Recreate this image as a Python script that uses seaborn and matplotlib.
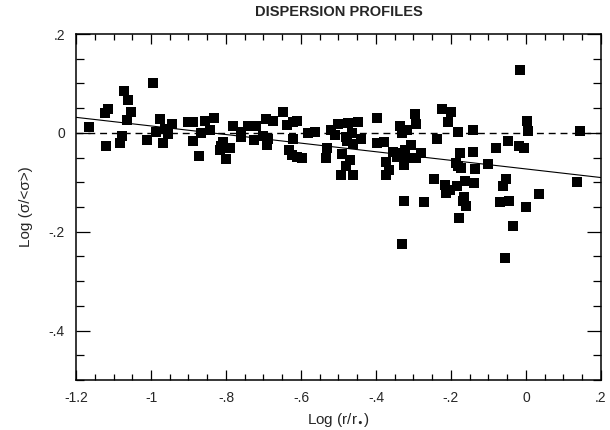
import numpy as np
import pandas as pd
import matplotlib
matplotlib.use("Agg")
import matplotlib.pyplot as plt
import seaborn as sns
from matplotlib.ticker import MultipleLocator, FuncFormatter

# log radius (r/r_e) and log dispersion ratio
log_r = [
    -1.165, -1.124, -1.114, -1.121, -1.071, -1.061, -1.053, -1.063, -1.078, -1.084,
    -0.996, -1.012, -0.976, -0.988, -0.962, -0.954, -0.944, -0.969, -0.900, -0.887,
    -0.887, -0.872, -0.866, -0.856, -0.842, -0.832, -0.808, -0.813, -0.817, -0.789,
    -0.800, -0.782, -0.760, -0.760, -0.741, -0.720, -0.725,
    -0.694, -0.675, -0.647, -0.636, -0.622, -0.611, -0.701, -0.687, -0.690, -0.622,
    -0.633, -0.625, -0.611, -0.597, -0.580, -0.562, -0.530, -0.533, -0.519, -0.508,
    -0.501, -0.475, -0.449, -0.465, -0.481, -0.477, -0.460, -0.439, -0.490, -0.469,
    -0.479, -0.493, -0.460, -0.398, -0.398, -0.378, -0.372, -0.366, -0.374, -0.354,
    -0.344, -0.335, -0.323, -0.317, -0.324, -0.337, -0.318, -0.330, -0.296, -0.294,
    -0.306, -0.292, -0.281,
    -0.016, -0.225, -0.200, -0.208, -0.181, -0.238, -0.140, 0.004, 0.006, 0.144,
    -0.175, -0.140, -0.079, -0.048, -0.019, -0.006, -0.187, -0.182, -0.174, -0.135,
    -0.100, -0.246, -0.215, -0.203, -0.183, -0.162, -0.139, -0.213, -0.326, -0.273,
    -0.166, -0.168, -0.159, -0.179, -0.068, -0.046, -0.060, -0.053, 0.000, 0.035,
    -0.034, -0.331, -0.056, 0.137,
]
log_sigma = [
    0.012, 0.040, 0.048, -0.027, 0.085, 0.066, 0.042, 0.026, -0.007, -0.021,
    0.101, -0.015, 0.028, 0.002, 0.008, -0.003, 0.018, -0.020, 0.022, 0.022,
    -0.016, -0.046, -0.001, 0.024, 0.006, 0.030, -0.018, -0.027, -0.035, -0.031,
    -0.053, 0.013, 0.001, -0.009, 0.014, 0.013, -0.014,
    0.029, 0.024, 0.042, 0.015, 0.021, 0.025, -0.007, -0.013, -0.025, -0.012,
    -0.034, -0.044, -0.048, -0.051, -0.001, 0.001, -0.031, -0.051, 0.006, -0.004,
    0.018, 0.019, 0.021, -0.001, -0.009, -0.016, -0.023, -0.012, -0.042, -0.055,
    -0.068, -0.085, -0.085, 0.030, -0.021, -0.018, -0.058, -0.075, -0.085, -0.038,
    -0.048, -0.041, -0.034, -0.051, -0.065, 0.013, 0.006, -0.001, 0.038, 0.018,
    -0.024, -0.051, -0.040,
    0.127, 0.049, 0.042, 0.021, 0.001, -0.012, 0.006, 0.024, 0.003, 0.004,
    -0.041, -0.039, -0.030, -0.016, -0.026, -0.030, -0.061, -0.067, -0.071, -0.073,
    -0.063, -0.093, -0.105, -0.115, -0.108, -0.098, -0.102, -0.122, -0.137, -0.140,
    -0.129, -0.137, -0.147, -0.173, -0.139, -0.137, -0.108, -0.093, -0.149, -0.124,
    -0.189, -0.224, -0.253, -0.100,
]

# fitted gradient shown as the solid line
fit_slope = -0.087
fit_intercept = -0.073

df = pd.DataFrame({"log_r": log_r, "log_sigma": log_sigma})

sns.set_style("ticks")
plt.rcParams["font.family"] = ["Liberation Sans", "DejaVu Sans"]
plt.rcParams["mathtext.fontset"] = "dejavusans"

fig = plt.figure(figsize=(6.1, 4.3), dpi=100)
ax = fig.add_axes([0.1246, 0.1163, 0.8606, 0.8046])

sns.scatterplot(data=df, x="log_r", y="log_sigma", marker="s", s=42,
                color="black", linewidth=0, ax=ax, zorder=3)

xmin, xmax = -1.2, 0.2
ax.axhline(0, color="black", lw=1.0, ls=(0, (5, 3.5)), zorder=2)
xx = np.array([xmin, xmax])
ax.plot(xx, fit_intercept + fit_slope * xx, color="black", lw=0.8, zorder=2)

ax.set_xlim(xmin, xmax)
ax.set_ylim(-0.5, 0.2)

ax.xaxis.set_major_locator(MultipleLocator(0.2))
ax.xaxis.set_minor_locator(MultipleLocator(0.05))
ax.yaxis.set_major_locator(MultipleLocator(0.2))
ax.yaxis.set_minor_locator(MultipleLocator(0.05))


def fmt(v, pos):
    v = round(v, 2)
    if abs(v) < 1e-9:
        return "0"
    s = f"{v:g}"
    s = s.replace("0.", ".")
    return s


ax.xaxis.set_major_formatter(FuncFormatter(fmt))
ax.yaxis.set_major_formatter(FuncFormatter(fmt))

ax.tick_params(which="both", direction="in", top=True, right=True,
               labelsize=10, width=0.9, color="black")
ax.tick_params(axis="x", which="major", length=7, pad=8)
ax.tick_params(axis="x", which="minor", length=4)
ax.tick_params(axis="y", which="major", length=10, pad=8)
ax.tick_params(axis="y", which="minor", length=5.5)

for spine in ax.spines.values():
    spine.set_linewidth(1.1)
    spine.set_color("black")

ax.set_xlabel(r"Log (r/r$_{\bullet}$)", fontsize=11, labelpad=4)
ax.set_ylabel("Log (σ/<σ>)", fontsize=11, labelpad=11)
ax.set_title("DISPERSION PROFILES", fontsize=10.5, fontweight="bold", pad=13)

fig.savefig("out.png", dpi=100)
